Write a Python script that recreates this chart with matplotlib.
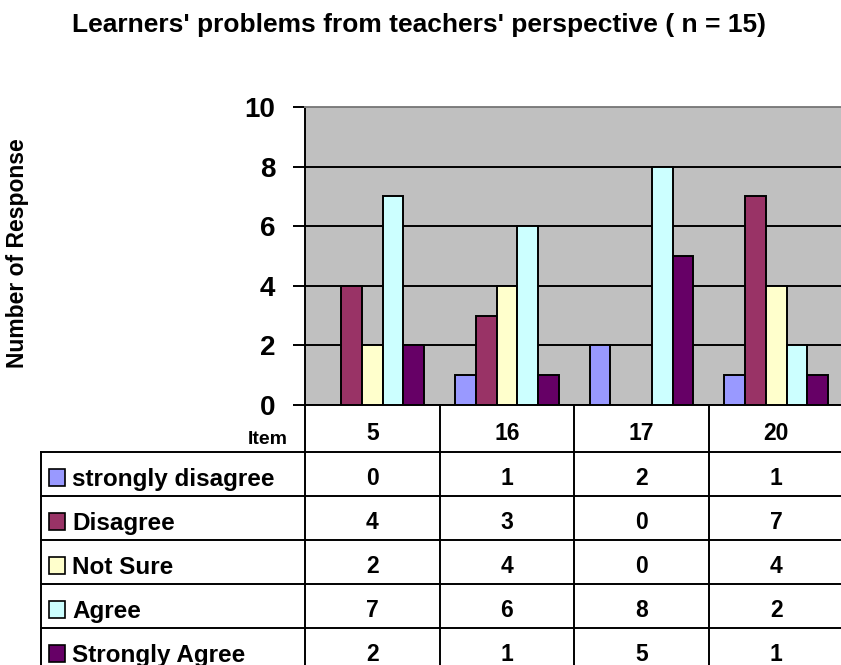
import numpy as np
import matplotlib
matplotlib.use('Agg')
import matplotlib.pyplot as plt
from matplotlib.patches import Rectangle

plt.rcParams['font.family'] = ['Liberation Sans', 'DejaVu Sans']

# ── data ──────────────────────────────────────────────────────────────────────
items = ['5', '16', '17', '20']
series = ['strongly disagree', 'Disagree', 'Not Sure', 'Agree', 'Strongly Agree']
strongly_disagree = [0, 1, 2, 1]
disagree = [4, 3, 0, 7]
not_sure = [2, 4, 0, 4]
agree = [7, 6, 8, 2]
strongly_agree = [2, 1, 5, 1]
values = [strongly_disagree, disagree, not_sure, agree, strongly_agree]
colors = ['#9999FF', '#993366', '#FFFFCC', '#CCFFFF', '#660066']
yticks = [0, 2, 4, 6, 8, 10]

W, H = 841, 665
fig = plt.figure(figsize=(W / 100, H / 100), dpi=100)
fig.patch.set_facecolor('white')

# plot area (pixels from top-left)
px_l, px_r, px_t, px_b = 305, 843.5, 107, 405
ax = fig.add_axes([px_l / W, 1 - px_b / H, (px_r - px_l) / W, (px_b - px_t) / H])
ax.set_facecolor('#C0C0C0')

bw = 1 / 6.5
x = np.arange(len(items))
for i, (vals, col) in enumerate(zip(values, colors)):
    ax.bar(x - 2.5 * bw + (i + 0.5) * bw, vals, width=bw, color=col,
           edgecolor='black', linewidth=1.4, zorder=3)

ax.set_xlim(-0.5, len(items) - 0.5)
ax.set_ylim(0, 10)
ax.set_yticks(yticks)
ax.set_yticklabels([str(t) for t in yticks], fontsize=20, fontweight='bold')
ax.set_xticks([])
ax.tick_params(axis='y', direction='out', length=8.5, width=1.4, pad=13)
ax.yaxis.grid(True, color='black', linewidth=1.4, zorder=1)
ax.set_axisbelow(True)
ax.spines['left'].set_linewidth(1.4)
ax.spines['bottom'].set_linewidth(1.4)
ax.spines['top'].set_color('#808080')
ax.spines['top'].set_linewidth(1.4)
ax.spines['right'].set_visible(False)

fig.text(419 / W, 1 - 32 / H,
         "Learners' problems from teachers' perspective ( n = 15)",
         ha='center', va='baseline', fontsize=19, fontweight='bold')
fig.text(18 / W, 1 - 253 / H, 'Number of Response', rotation=90,
         ha='center', va='center', fontsize=16.5, fontweight='bold')

# ── data table below the plot ────────────────────────────────────────────────
tx = fig.add_axes([0, 0, 1, 1], facecolor='none')
tx.set_xlim(0, W)
tx.set_ylim(H, 0)
tx.axis('off')

col_w = (px_r - px_l) / len(items)
col_edges = [px_l + k * col_w for k in range(len(items) + 1)]
row_top = [452, 496, 540, 584, 628]
tab_left = 41
lw = 1.4

for ce in col_edges:
    tx.plot([ce, ce], [px_b, H + 5], color='black', lw=lw, clip_on=False)
for rt in row_top:
    tx.plot([tab_left, px_r], [rt, rt], color='black', lw=lw, clip_on=False)
tx.plot([tab_left, tab_left], [row_top[0], H + 5], color='black', lw=lw,
        clip_on=False)

tx.text(288, 444, 'Item', ha='right', va='baseline', fontsize=14,
        fontweight='bold')
for j, it in enumerate(items):
    tx.text(col_edges[j] + col_w / 2, 440, it, ha='center', va='baseline',
            fontsize=16.5, fontweight='bold')

for i, (name, vals, col) in enumerate(zip(series, values, colors)):
    base = row_top[i] + 33
    tx.add_patch(Rectangle((49, row_top[i] + 17), 16, 17, facecolor=col,
                           edgecolor='black', lw=1.2))
    tx.text(72, base + 1, name, ha='left', va='baseline', fontsize=17.5,
            fontweight='bold')
    for j, v in enumerate(vals):
        tx.text(col_edges[j] + col_w / 2, base, str(v), ha='center',
                va='baseline', fontsize=16.5, fontweight='bold')

fig.savefig('out.png', dpi=100, facecolor='white')
